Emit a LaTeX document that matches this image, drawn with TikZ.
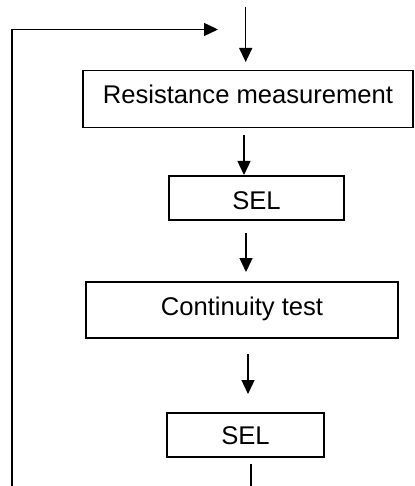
\documentclass[tikz,border=0pt]{standalone}
\usepackage{fontspec}
\setmainfont{Liberation Sans}
\usetikzlibrary{arrows.meta}
\begin{document}
\begin{tikzpicture}[x=1pt,y=-1pt,
  line width=1.4pt,
  flowbox/.style={draw, inner sep=0pt, font=\fontsize{25.6}{30}\selectfont, text height=18.3pt, text depth=0pt},
  flowarrow/.style={-{Triangle[length=14pt,width=13pt]}}]
\useasboundingbox (0,0) rectangle (414,486);
\node[flowbox, minimum width=330pt, minimum height=57pt, text depth=10pt] (res) at (248,99) {Resistance measurement};
\node[flowbox, minimum width=175pt, minimum height=44pt, text height=22pt] (sel1) at (256.5,198) {SEL};
\node[flowbox, minimum width=312pt, minimum height=56pt, text depth=8pt] (cont) at (242,310) {Continuity test};
\node[flowbox, minimum width=157pt, minimum height=44pt] (sel2) at (245.5,435) {SEL};
\coordinate (in0) at (245.7,7);
\coordinate (in1) at (245.7,62);
\coordinate (a1s) at (244,135);
\coordinate (a1e) at (244,175);
\coordinate (a2s) at (246,233);
\coordinate (a2e) at (246,272);
\coordinate (a3s) at (248,354);
\coordinate (a3e) at (248,394);
\coordinate (outs) at (251,464);
\coordinate (oute) at (251,486);
\coordinate (fb0) at (12,486);
\coordinate (fb1) at (12,29.5);
\coordinate (fb2) at (218,29.5);
\draw[flowarrow] (in0) -- (in1);
\draw[flowarrow] (a1s) -- (a1e);
\draw[flowarrow] (a2s) -- (a2e);
\draw[flowarrow] (a3s) -- (a3e);
\draw (outs) -- (oute);
\draw[flowarrow] (fb0) -- (fb1) -- (fb2);
\end{tikzpicture}
\end{document}
